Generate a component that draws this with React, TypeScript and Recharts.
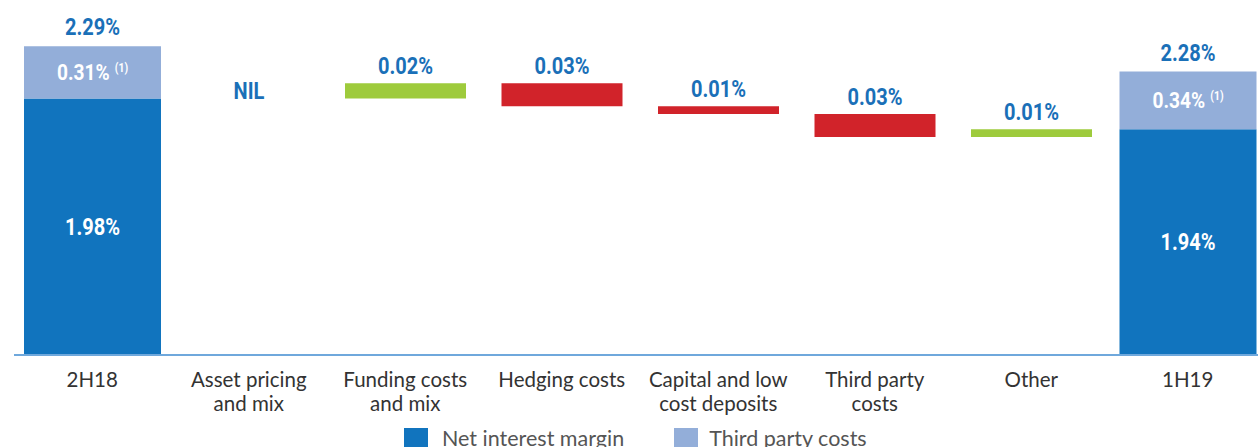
import { BarChart, Bar, XAxis, YAxis, Cell, LabelList, Legend, Rectangle } from 'recharts'

// Net interest margin bridge, 2H18 -> 1H19 (%)
const categories = [
  '2H18',
  'Asset pricing\nand mix',
  'Funding costs\nand mix',
  'Hedging costs',
  'Capital and low\ncost deposits',
  'Third party\ncosts',
  'Other',
  '1H19',
]
const netInterestMargin = [1.98, 1.94] // 2H18, 1H19
const thirdPartyCosts = [0.31, 0.34]
const totalMargin = [2.29, 2.28]
const movements = [0, 0.02, -0.03, -0.01, -0.03, 0.01]
// the source draws the third party segment far from scale; heights as drawn
const thirdPartyDrawn = [0.068, 0.075]

const AXIS_FLOOR = 1.647
const AXIS_CEIL = 2.1015

const DARK = '#1174be'
const LIGHT = '#93aed9'
const GREEN = '#9ecb3c'
const RED = '#d1232a'
const LABEL_BLUE = '#1a70b8'
const NUM_FONT = 'Roboto, sans-serif'
const TEXT_FONT = 'Lato, sans-serif'

const pct = (v: number) => `${v.toFixed(2)}%`

function totalRow(name: string, j: number) {
  return {
    name,
    base: 0,
    nim: netInterestMargin[j] - AXIS_FLOOR,
    tpc: thirdPartyDrawn[j],
    move: 0,
    delta: 0,
    nimLabel: pct(netInterestMargin[j]),
    tpcLabel: pct(thirdPartyCosts[j]),
    totalLabel: pct(totalMargin[j]),
  }
}

function buildRows() {
  const rows: any[] = [totalRow(categories[0], 0)]
  let level = netInterestMargin[0]
  movements.forEach((m, i) => {
    const next = Math.round((level + m) * 10000) / 10000
    rows.push({
      name: categories[i + 1],
      base: Math.min(level, next) - AXIS_FLOOR,
      nim: 0,
      tpc: 0,
      move: Math.abs(m),
      delta: m,
      moveLabel: m === 0 ? undefined : pct(Math.abs(m)),
      nilLabel: m === 0 ? 'NIL' : undefined,
    })
    level = next
  })
  rows.push(totalRow(categories[7], 1))
  return rows
}

const data = buildRows()

const WideBar = (props: any) => {
  if (!props.height) return null
  return <Rectangle {...props} x={props.x - 8} width={props.width + 16} />
}

const CategoryTick = ({ x, y, payload }: any) => {
  const lines = String(payload.value).split('\n')
  return (
    <g>
      {lines.map((l, i) => (
        <text
          key={i}
          x={x}
          y={y + 31.5 + i * 24.5}
          textAnchor="middle"
          fill="#333"
          fontSize={20.5}
          fontFamily={TEXT_FONT}
        >
          {l}
        </text>
      ))}
    </g>
  )
}

// condensed bold numbers (the source uses a narrow face)
const numLabel =
  (place: 'top' | 'center', offset: number, color: string, size: number, sup = false) =>
  (props: any) => {
    const vb = props.viewBox ?? props
    if (props.value == null || props.value === '') return null
    const cx = vb.x + vb.width / 2
    let y = vb.y - offset
    if (place === 'center') {
      if (!vb.height) return null
      y = vb.y + vb.height / 2 + size * 0.355
    }
    return (
      <g transform={`translate(${cx},${y}) scale(0.87,1)`}>
        <text x={0} y={0} textAnchor="middle" fill={color} fontFamily={NUM_FONT} fontWeight="bold" fontSize={size}>
          <tspan>{props.value}</tspan>
          {sup && (
            <tspan fontSize={12} dx={6} dy={-8}>
              (1)
            </tspan>
          )}
        </text>
      </g>
    )
  }

const LegendContent = () => (
  <div style={{ display: 'flex', fontFamily: TEXT_FONT, fontSize: 21.5, color: '#555', lineHeight: '24px' }}>
    <span style={{ width: 24, height: 24, background: DARK, marginRight: 14 }} />
    <span style={{ marginRight: 50, position: 'relative', top: -2 }}>Net interest margin</span>
    <span style={{ width: 24, height: 24, background: LIGHT, marginRight: 11 }} />
    <span style={{ position: 'relative', top: -2 }}>Third party costs</span>
  </div>
)

export default function App() {
  return (
    <div style={{ position: 'absolute', left: 0, top: 0, width: 1258, height: 447, overflow: 'hidden', background: '#fff' }}>
      <BarChart width={1266} height={460} data={data} barSize={121} margin={{ top: 5, right: 0, bottom: 75, left: 14 }}>
        <XAxis
          dataKey="name"
          interval={0}
          tickLine={false}
          tickSize={0}
          tickMargin={0}
          axisLine={{ stroke: '#6fa8dc', strokeWidth: 2 }}
          tick={<CategoryTick />}
        />
        <YAxis hide type="number" domain={[0, AXIS_CEIL - AXIS_FLOOR]} allowDataOverflow />
        <Legend
          verticalAlign="middle"
          align="center"
          layout="horizontal"
          content={<LegendContent />}
          wrapperStyle={{ left: 404, top: 428, width: 'auto' }}
        />
        <Bar dataKey="base" stackId="w" fill="transparent" isAnimationActive={false} legendType="none">
          <LabelList dataKey="nilLabel" content={numLabel('top', 0, LABEL_BLUE, 23)} />
        </Bar>
        <Bar dataKey="nim" stackId="w" fill={DARK} shape={WideBar} isAnimationActive={false}>
          <LabelList dataKey="nimLabel" content={numLabel('center', 0, '#fff', 23)} />
        </Bar>
        <Bar dataKey="tpc" stackId="w" fill={LIGHT} shape={WideBar} isAnimationActive={false}>
          <LabelList dataKey="tpcLabel" content={numLabel('center', 0, '#fff', 22, true)} />
          <LabelList dataKey="totalLabel" content={numLabel('top', 11, LABEL_BLUE, 23)} />
        </Bar>
        <Bar dataKey="move" stackId="w" isAnimationActive={false}>
          {data.map((d, i) => (
            <Cell key={i} fill={d.delta > 0 ? GREEN : RED} />
          ))}
          <LabelList dataKey="moveLabel" content={numLabel('top', 9, LABEL_BLUE, 23)} />
        </Bar>
      </BarChart>
    </div>
  )
}
